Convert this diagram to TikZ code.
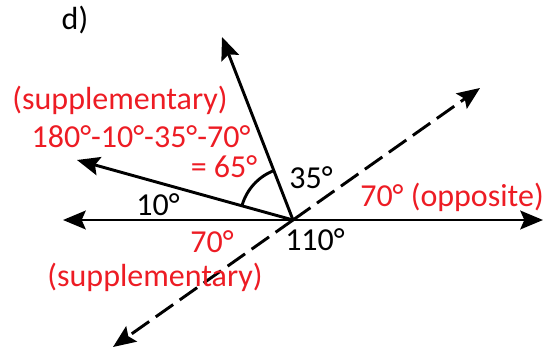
\documentclass[tikz,border=0pt]{standalone}
\usepackage{fontspec}
\setmainfont{Carlito}
\usepackage{tikz}
\usetikzlibrary{arrows.meta}
\definecolor{answerred}{RGB}{237,28,36}

\begin{document}
\begin{tikzpicture}[x=0.75pt, y=0.75pt,
    ray/.style={line width=2.2pt, -{Stealth[length=17pt, width=14pt, inset=3pt]}},
    dashray/.style={ray, dash pattern=on 16pt off 6pt},
    lab/.style={font=\fontsize{24}{28}\selectfont, inner sep=0pt},
    redlab/.style={lab, text=answerred}]
  \useasboundingbox (-293,-130) rectangle (255,220);

  % Vertex and arrow ends
  \coordinate (O) at (0,0);
  \coordinate (east) at (250,0);
  \coordinate (west) at (-230,0);
  \coordinate (up) at (-71,183);
  \coordinate (tilt) at (-216,60);
  \coordinate (ne) at (187,132);
  \coordinate (sw) at (-180,-127);

  % Rays
  \draw[ray] (O) -- (east);
  \draw[ray] (O) -- (west);
  \draw[ray] (O) -- (up);
  \draw[ray] (O) -- (tilt);
  \draw[dashray] (O) -- (ne);
  \draw[dashray] (O) -- (sw);

  % Angle arc
  \draw[line width=2.2pt] (O) ++(111.2:53) arc[start angle=111.2, end angle=164.5, radius=53];

  % Labels
  \node[lab] (title) at (-218,200) {d)};
  \node[redlab] (supptop) at (-173,120) {(supplementary)};
  \node[redlab] (calc) at (-152,83) {180°-10°-35°-70°};
  \node[redlab] (result) at (-69,53) {= 65°};
  \node[lab] (a35) at (18,42) {35°};
  \node[lab] (a10) at (-135,15) {10°};
  \node[redlab] (a70low) at (-81,-22) {70°};
  \node[redlab] (suppbot) at (-138,-57) {(supplementary)};
  \node[lab] (a110) at (22,-20) {110°};
  \node[redlab] (opp) at (159,23) {70° (opposite)};
\end{tikzpicture}
\end{document}
